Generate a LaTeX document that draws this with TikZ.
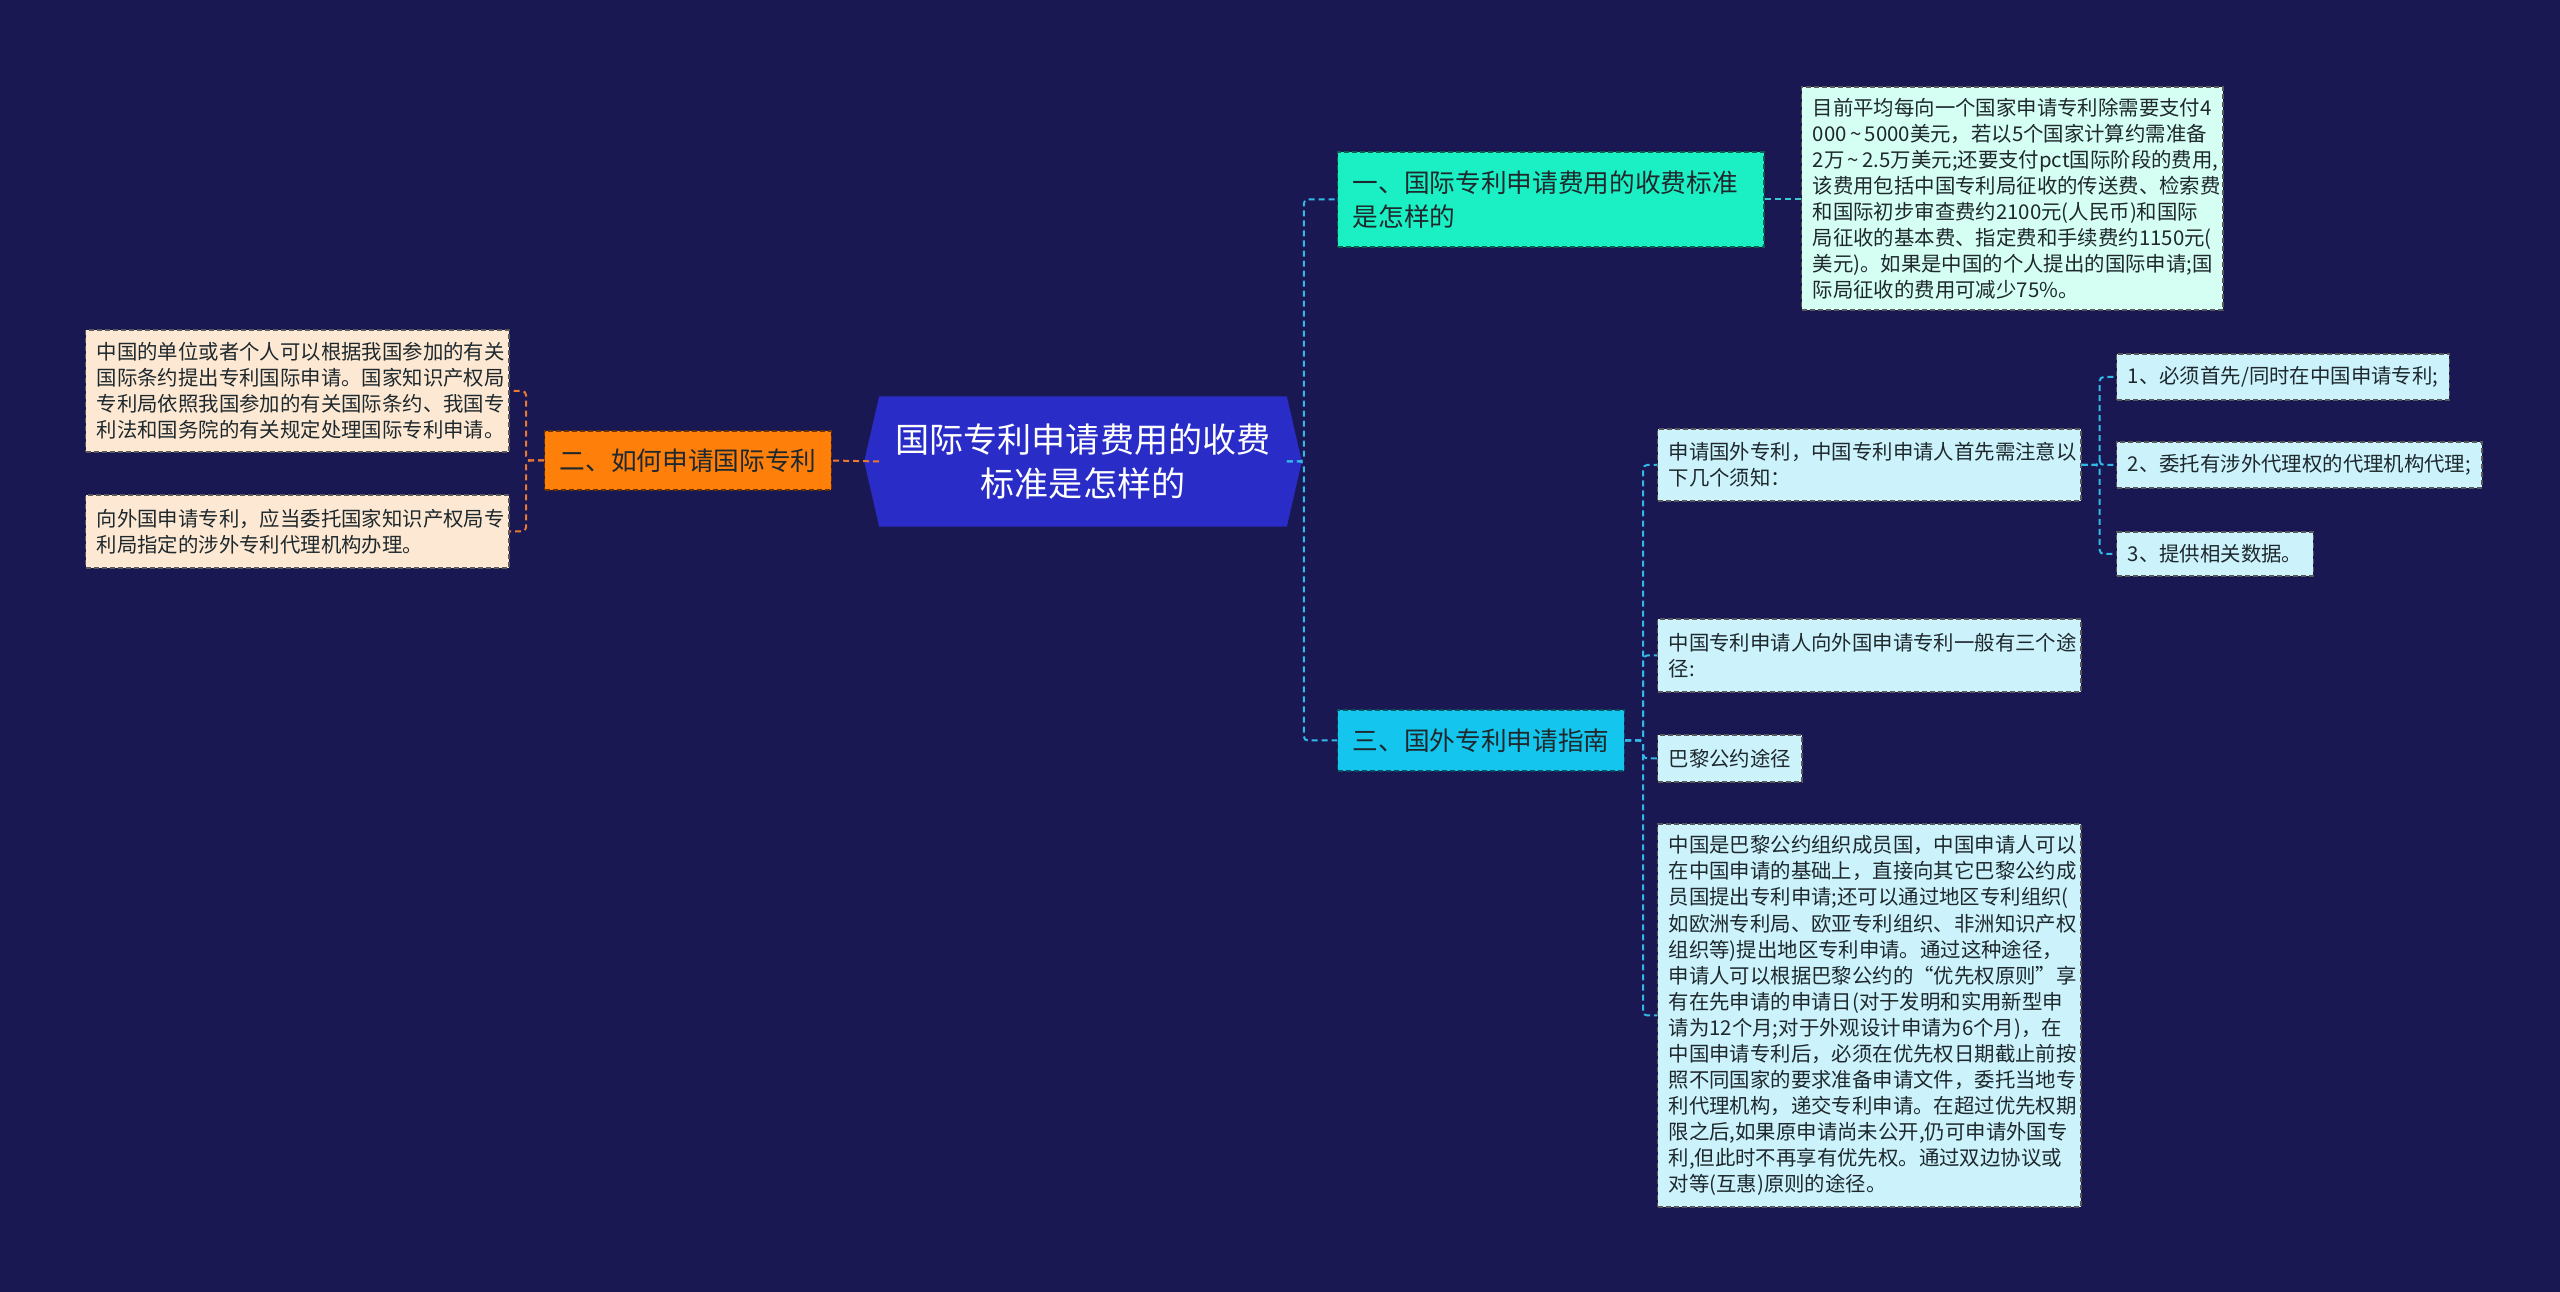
\documentclass[tikz,border=0pt]{standalone}
\usepackage{fontspec}
\setmainfont{Noto Sans CJK SC}
\usetikzlibrary{backgrounds}
\definecolor{bgnavy}{RGB}{26,24,82}
\definecolor{rootblue}{RGB}{42,44,200}
\definecolor{mint}{RGB}{26,240,196}
\definecolor{mintlight}{RGB}{214,255,244}
\definecolor{cyanmain}{RGB}{20,198,238}
\definecolor{cyanlight}{RGB}{204,243,252}
\definecolor{orangemain}{RGB}{255,127,11}
\definecolor{peach}{RGB}{253,233,211}
\definecolor{lineblue}{RGB}{50,185,230}
\definecolor{lineteal}{RGB}{60,200,210}
\definecolor{lineorange}{RGB}{232,120,50}
\definecolor{textdark}{RGB}{30,40,45}
\begin{document}
\begin{tikzpicture}[x=0.01cm,y=-0.01cm,
  topic/.style={rectangle,fill=#1,draw=#1!40!black,dash pattern=on 0.05cm off 0.03cm,
    line width=0.014cm,anchor=west,inner xsep=0.15cm,inner ysep=0cm,align=left,
    text=textdark,font=\fontsize{7.3pt}{9.7pt}\selectfont},
  leaf/.style={rectangle,fill=#1,draw=black!65,dash pattern=on 0.05cm off 0.03cm,
    line width=0.014cm,anchor=west,inner xsep=0.11cm,inner ysep=0cm,align=left,
    text=textdark,font=\fontsize{5.8pt}{7.4pt}\selectfont},
  link/.style={draw=#1,dash pattern=on 0.06cm off 0.04cm,line width=0.02cm,rounded corners=0.04cm}]
  % Hintergrund
  \begin{scope}[on background layer]
    \fill[bgnavy] (0,0) rectangle (2560,1292);
  \end{scope}
  \useasboundingbox (0,0) rectangle (2560,1292);
  % Hauptknoten
  \node[text=white,align=center,minimum width=4.06cm,minimum height=1.29cm,inner sep=0cm,
    font=\fontsize{9.7pt}{12.5pt}\selectfont] (root) at (1083,461.5)
    {国际专利申请费用的收费\\标准是怎样的};
  \begin{scope}[on background layer]
    \fill[rootblue] (root.north west) -- (root.north east) -- ([xshift=0.15cm]root.east)
      -- (root.south east) -- (root.south west) -- ([xshift=-0.15cm]root.west) -- cycle;
  \end{scope}
  % rechte Seite
  \node[topic=mint,text width=3.96cm,minimum height=0.95cm] (n1) at (1337,199.5)
    {一、国际专利申请费用的收费标准\\是怎样的};
  \node[leaf=mintlight,text width=3.99cm,minimum height=2.23cm] (d1) at (1801,198.5)
    {目前平均每向一个国家申请专利除需要支付4\\000\,\textasciitilde\,5000美元，若以5个国家计算约需准备\\2万\,\textasciitilde\,2.5万美元;还要支付pct国际阶段的费用,\\该费用包括中国专利局征收的传送费、检索费\\和国际初步审查费约2100元(人民币)和国际\\局征收的基本费、指定费和手续费约1150元(\\美元)。如果是中国的个人提出的国际申请;国\\际局征收的费用可减少75\%。};
  \node[topic=cyanmain,align=center,minimum width=2.84cm,minimum height=0.61cm] (n3) at (1337,740.5)
    {三、国外专利申请指南};
  \node[leaf=cyanlight,text width=4.01cm,minimum height=0.72cm] (a) at (1657,465)
    {申请国外专利，中国专利申请人首先需注意以\\下几个须知：};
  \node[leaf=cyanlight,text width=4.01cm,minimum height=0.73cm] (b) at (1657,655.5)
    {中国专利申请人向外国申请专利一般有三个途\\径:};
  \node[leaf=cyanlight,align=center,minimum width=1.41cm,minimum height=0.47cm] (c) at (1657,758.5)
    {巴黎公约途径};
  \node[leaf=cyanlight,text width=4.01cm,minimum height=3.83cm] (d) at (1657,1015.5)
    {中国是巴黎公约组织成员国，中国申请人可以\\在中国申请的基础上，直接向其它巴黎公约成\\员国提出专利申请;还可以通过地区专利组织(\\如欧洲专利局、欧亚专利组织、非洲知识产权\\组织等)提出地区专利申请。通过这种途径，\\申请人可以根据巴黎公约的“优先权原则”享\\有在先申请的申请日(对于发明和实用新型申\\请为12个月;对于外观设计申请为6个月)，在\\中国申请专利后，必须在优先权日期截止前按\\照不同国家的要求准备申请文件，委托当地专\\利代理机构，递交专利申请。在超过优先权期\\限之后,如果原申请尚未公开,仍可申请外国专\\利,但此时不再享有优先权。通过双边协议或\\对等(互惠)原则的途径。};
  \node[leaf=cyanlight,align=center,minimum width=3.28cm,minimum height=0.46cm] (a1) at (2116,377)
    {1、必须首先/同时在中国申请专利;};
  \node[leaf=cyanlight,align=center,minimum width=3.58cm,minimum height=0.46cm] (a2) at (2116,465)
    {2、委托有涉外代理权的代理机构代理;};
  \node[leaf=cyanlight,align=center,minimum width=1.93cm,minimum height=0.44cm] (a3) at (2116,554)
    {3、提供相关数据。};
  % linke Seite
  \node[topic=orangemain,align=center,minimum width=2.84cm,minimum height=0.59cm] (n2) at (544,460.5)
    {二、如何申请国际专利};
  \node[leaf=peach,text width=4.01cm,minimum height=1.22cm] (l1) at (85,391)
    {中国的单位或者个人可以根据我国参加的有关\\国际条约提出专利国际申请。国家知识产权局\\专利局依照我国参加的有关国际条约、我国专\\利法和国务院的有关规定处理国际专利申请。};
  \node[leaf=peach,text width=4.01cm,minimum height=0.73cm] (l2) at (85,531.5)
    {向外国申请专利，应当委托国家知识产权局专\\利局指定的涉外专利代理机构办理。};
  % Verbindungen
  \foreach \k in {n1,n3}
    \draw[link=lineblue] (root.east) -- ++(17,0) |- (\k.west);
  \draw[link=lineteal] (n1.east) -- (n1.east -| d1.west);
  \foreach \k in {a,b,c,d}
    \draw[link=lineblue] (n3.east) -- ++(18,0) |- (\k.west);
  \foreach \k in {a1,a2,a3}
    \draw[link=lineblue] (a.east) -- ++(18,0) |- (\k.west);
  \draw[link=lineorange] (root.west) -- (n2.east);
  \foreach \k in {l1,l2}
    \draw[link=lineorange] (n2.west) -- ++(-18,0) |- (\k.east);
\end{tikzpicture}
\end{document}
